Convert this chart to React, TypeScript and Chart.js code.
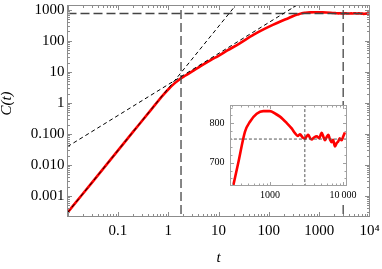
import React, { useEffect, useRef } from "react";
import { Chart, registerables } from "chart.js";
Chart.register(...registerables);

// ---- data ----
const curveT = [0.01, 0.02, 0.05, 0.1, 0.2, 0.5, 0.8, 1, 1.3, 1.6, 2, 2.5, 3, 4.4, 7, 10, 15, 25, 50, 80, 120, 174, 250, 315, 368, 455, 532, 658, 810, 1000, 1170, 1370, 1690, 1980, 2200, 2400, 2580, 2800, 3020, 3200, 3350, 3550, 3720, 4000, 4370, 4700, 5100, 5400, 5660, 6000, 6300, 6600, 7000, 7300, 7770, 8200, 8620, 9000, 9580, 10000, 10600];
const curveC = [0.00029, 0.00116, 0.0072, 0.029, 0.116, 0.72, 1.8, 2.7, 4.1, 5.4, 6.9, 8.6, 10.3, 15.3, 24, 33, 49, 79, 158, 238, 328, 430, 545, 643, 700, 779, 804, 824, 831, 831, 825, 817, 801, 787, 775, 768, 772, 764, 761, 768, 771, 762, 759, 764, 767, 762, 776, 765, 757, 766, 771, 760, 752, 758, 741, 750, 754, 762, 757, 765, 777];

const fitLinearT = [0.01, 1000];
const fitLinearC = [0.039, 3900];
const fitBallisticT = [0.01, 100];
const fitBallisticC = [0.00029, 29000];
const plateauC = 760;
const crossoverT = [1.8, 3000];

const xTickValues = [0.1, 1, 10, 100, 1000, 10000];
const xTickLabels = ["0.1", "1", "10", "100", "1000", "10\u2074"];
const yTickValues = [0.001, 0.01, 0.1, 1, 10, 100, 1000];
const yTickLabels = ["0.001", "0.010", "0.100", "1", "10", "100", "1000"];

const insetXTickValues = [1000, 10000];
const insetXTickLabels = ["1000", "10\u2009000"];
const insetYTickValues = [700, 800];
const insetYTickLabels = ["700", "800"];

const FONT = "'Liberation Serif', 'Times New Roman', serif";

function decadeMinors(lo: number, hi: number): number[] {
  const out: number[] = [];
  for (let k = Math.floor(Math.log10(lo)); k <= Math.ceil(Math.log10(hi)); k++) {
    for (let m = 2; m <= 9; m++) {
      const v = m * Math.pow(10, k);
      if (v > lo && v < hi) out.push(v);
    }
  }
  return out;
}

function framePlugin(id: string, cfg: any) {
  return {
    id,
    beforeDraw(chart: any) {
      if (cfg.bg) {
        const c = chart.ctx;
        c.save();
        c.fillStyle = "#ffffff";
        c.fillRect(cfg.bg[0], cfg.bg[1], cfg.bg[2], cfg.bg[3]);
        c.restore();
      }
    },
    afterDraw(chart: any) {
      const { ctx, chartArea: a, scales } = chart;
      const x = scales.x;
      const y = scales.y;
      ctx.save();
      ctx.strokeStyle = cfg.color;
      ctx.lineWidth = 1;
      ctx.strokeRect(a.left, a.top, a.right - a.left, a.bottom - a.top);
      ctx.beginPath();
      const tx = (v: number, len: number) => {
        const p = Math.round(x.getPixelForValue(v)) + 0.5;
        if (p < a.left || p > a.right) return;
        ctx.moveTo(p, a.bottom);
        ctx.lineTo(p, a.bottom - len);
        ctx.moveTo(p, a.top);
        ctx.lineTo(p, a.top + len);
      };
      const ty = (v: number, len: number) => {
        const p = Math.round(y.getPixelForValue(v)) + 0.5;
        if (p < a.top || p > a.bottom) return;
        ctx.moveTo(a.left, p);
        ctx.lineTo(a.left + len, p);
        ctx.moveTo(a.right, p);
        ctx.lineTo(a.right - len, p);
      };
      cfg.xMaj.forEach((v: number) => tx(v, cfg.maj));
      cfg.xMin.forEach((v: number) => tx(v, cfg.min));
      cfg.yMaj.forEach((v: number) => ty(v, cfg.maj));
      cfg.yMin.forEach((v: number) => ty(v, cfg.min));
      ctx.stroke();
      ctx.restore();
    },
  };
}

const zeroPad = (s: any) => {
  s.paddingTop = 0;
  s.paddingBottom = 0;
  s.paddingLeft = 0;
  s.paddingRight = 0;
};

export default function App() {
  const mainRef = useRef<HTMLCanvasElement>(null);
  const insetRef = useRef<HTMLCanvasElement>(null);

  useEffect(() => {
    const pts = (ts: number[], cs: number[]) => ts.map((t, i) => ({ x: t, y: cs[i] }));
    const line = (data: any[], color: string, width: number, dash: number[], smooth = false) => ({
      data,
      borderColor: color,
      borderWidth: width,
      borderDash: dash,
      pointRadius: 0,
      tension: smooth ? 0.4 : 0,
      cubicInterpolationMode: smooth ? "monotone" : "default",
      fill: false,
    });

    const main = new Chart(mainRef.current as HTMLCanvasElement, {
      type: "line",
      data: {
        datasets: [
          line(pts(fitBallisticT, fitBallisticC), "#000000", 1, [4, 3]),
          line(pts(fitLinearT, fitLinearC), "#000000", 1, [4, 3]),
          line([{ x: 0.01, y: plateauC }, { x: 10000, y: plateauC }], "#444444", 1.3, [9, 4]),
          line([{ x: crossoverT[0], y: 0.0001 }, { x: crossoverT[0], y: 2000 }], "#444444", 1.3, [9, 4]),
          line([{ x: crossoverT[1], y: 0.0001 }, { x: crossoverT[1], y: 2000 }], "#444444", 1.3, [9, 4]),
          line(pts(curveT, curveC), "#ff0000", 2.6, [], true),
        ],
      } as any,
      options: {
        animation: false,
        responsive: false,
        maintainAspectRatio: false,
        layout: { padding: { left: 0, top: 5.5, right: 382 - 369.5, bottom: 0 } },
        plugins: { legend: { display: false }, tooltip: { enabled: false } },
        scales: {
          x: {
            type: "logarithmic",
            min: 0.01,
            max: 10000,
            afterFit: (s: any) => {
              s.height = 269 - 216.5;
              zeroPad(s);
            },
            afterBuildTicks: (s: any) => {
              s.ticks = xTickValues.map((v) => ({ value: v }));
            },
            grid: { display: false, drawTicks: false },
            border: { display: false },
            ticks: {
              autoSkip: false,
              maxRotation: 0,
              padding: 6,
              color: "#000",
              font: { family: FONT, size: 15 },
              callback: (_v: any, i: number) => xTickLabels[i],
            },
            title: {
              display: true,
              text: "t",
              color: "#000",
              font: { family: FONT, size: 15, style: "italic" },
              padding: { top: 0, bottom: 2 },
            },
          },
          y: {
            type: "logarithmic",
            min: 0.000218,
            max: 1377,
            afterFit: (s: any) => {
              s.width = 67.5;
              zeroPad(s);
            },
            afterBuildTicks: (s: any) => {
              s.ticks = yTickValues.map((v) => ({ value: v }));
            },
            grid: { display: false, drawTicks: false },
            border: { display: false },
            ticks: {
              autoSkip: false,
              padding: 3,
              color: "#000",
              font: { family: FONT, size: 15 },
              callback: (_v: any, i: number) => yTickLabels[i],
            },
            title: {
              display: true,
              text: "\u2003C(t)",
              color: "#000",
              font: { family: FONT, size: 15, style: "italic", lineHeight: 1 },
              padding: 0,
            },
          },
        },
      } as any,
      plugins: [
        framePlugin("mainFrame", {
          xMaj: [0.01, 0.1, 1, 10, 100, 1000, 10000],
          xMin: decadeMinors(0.01, 10000),
          yMaj: [0.001, 0.01, 0.1, 1, 10, 100, 1000],
          yMin: decadeMinors(0.000218, 1377),
          maj: 4.5,
          min: 2.5,
          color: "#8c8c8c",
        }),
      ],
    });

    const insetT: number[] = [];
    const insetC: number[] = [];
    curveT.forEach((t, i) => {
      if (t >= 300) {
        insetT.push(t);
        insetC.push(curveC[i]);
      }
    });

    const inset = new Chart(insetRef.current as HTMLCanvasElement, {
      type: "line",
      data: {
        datasets: [
          line([{ x: 200, y: plateauC }, { x: 12000, y: plateauC }], "#555555", 1, [3, 2]),
          line([{ x: crossoverT[1], y: 600 }, { x: crossoverT[1], y: 900 }], "#555555", 1, [3, 2]),
          line(pts(insetT, insetC), "#ff0000", 2.6, [], true),
        ],
      } as any,
      options: {
        animation: false,
        responsive: false,
        maintainAspectRatio: false,
        layout: { padding: { left: 200.5, top: 105.5, right: 382 - 346.5, bottom: 269 - 185.5 - 20 } },
        plugins: { legend: { display: false }, tooltip: { enabled: false } },
        scales: {
          x: {
            type: "logarithmic",
            min: 288,
            max: 11160,
            afterFit: (s: any) => {
              s.height = 20;
              zeroPad(s);
            },
            afterBuildTicks: (s: any) => {
              s.ticks = insetXTickValues.map((v) => ({ value: v }));
            },
            grid: { display: false, drawTicks: false },
            border: { display: false },
            ticks: {
              autoSkip: false,
              maxRotation: 0,
              padding: 4,
              color: "#000",
              font: { family: FONT, size: 10 },
              callback: (_v: any, i: number) => insetXTickLabels[i],
            },
          },
          y: {
            type: "linear",
            min: 642.1,
            max: 845.2,
            afterFit: (s: any) => {
              s.width = 30;
              zeroPad(s);
            },
            afterBuildTicks: (s: any) => {
              s.ticks = insetYTickValues.map((v) => ({ value: v }));
            },
            grid: { display: false, drawTicks: false },
            border: { display: false },
            ticks: {
              autoSkip: false,
              padding: 6,
              color: "#000",
              font: { family: FONT, size: 10 },
              callback: (_v: any, i: number) => insetYTickLabels[i],
            },
          },
        },
      } as any,
      plugins: [
        framePlugin("insetFrame", {
          xMaj: [1000, 10000],
          xMin: decadeMinors(288, 11160),
          yMaj: [700, 800],
          yMin: [660, 680, 720, 740, 760, 780, 820, 840],
          maj: 3.5,
          min: 2,
          color: "#a0a0a0",
          bg: [198, 105, 160, 100],
        }),
      ],
    });

    return () => {
      main.destroy();
      inset.destroy();
    };
  }, []);

  const cs: any = { position: "absolute", left: 0, top: 0, width: 382, height: 269 };
  return (
    <div style={{ position: "absolute", left: 0, top: 0, width: 382, height: 269, background: "#fff" }}>
      <canvas ref={mainRef} width={382} height={269} style={cs} />
      <canvas ref={insetRef} width={382} height={269} style={cs} />
    </div>
  );
}
